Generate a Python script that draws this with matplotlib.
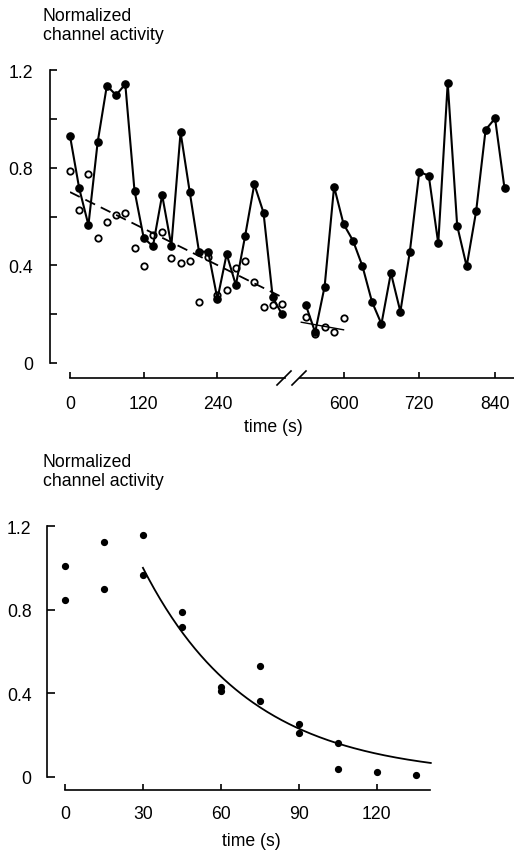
import numpy as np
import matplotlib
matplotlib.use("Agg")
import matplotlib.pyplot as plt
from matplotlib.lines import Line2D

plt.rcParams["font.family"] = ["Liberation Sans", "DejaVu Sans"]
FS = 12.7

# ---- top panel: activity over time (broken axis) ----
t_left = [0, 15, 30, 45, 60, 75, 90, 105, 120, 135, 150, 165, 180, 195,
          210, 225, 240, 255, 270, 285, 300, 315, 330, 345]
filled_left = [0.93, 0.715, 0.565, 0.904, 1.136, 1.097, 1.142, 0.706, 0.512, 0.478,
               0.688, 0.48, 0.945, 0.699, 0.456, 0.456, 0.262, 0.446, 0.319, 0.519,
               0.732, 0.616, 0.269, 0.20]
open_left = [0.787, 0.628, 0.774, 0.511, 0.579, 0.607, 0.614, 0.47, 0.399, 0.525,
             0.538, 0.429, 0.41, 0.419, 0.251, 0.435, 0.28, 0.30, 0.39, 0.419,
             0.333, 0.228, 0.239, 0.242]

t_right = [540, 555, 570, 585, 600, 615, 630, 645, 660, 675, 690, 705, 720, 735,
           750, 765, 780, 795, 810, 825, 840, 855]
filled_right = [0.239, 0.126, 0.313, 0.722, 0.569, 0.501, 0.396, 0.251, 0.16, 0.369,
                0.21, 0.456, 0.783, 0.767, 0.49, 1.147, 0.562, 0.396, 0.621, 0.955,
                1.002, 0.715]
t_open_right = [540, 555, 570, 585, 600]
open_right = [0.187, 0.12, 0.146, 0.126, 0.183]

# linear fits (end points)
fit1_t = [0, 345]
fit1_y = [0.70, 0.27]
fit2_t = [533, 600]
fit2_y = [0.167, 0.136]

# ---- bottom panel ----
b_t = [0, 0, 15, 15, 30, 30, 45, 45, 60, 60, 75, 75, 90, 90, 105, 105, 120, 135]
b_y = [1.011, 0.844, 1.123, 0.90, 1.155, 0.967, 0.788, 0.716, 0.432, 0.41,
       0.533, 0.362, 0.254, 0.209, 0.161, 0.038, 0.022, 0.01]
exp_start, exp_end = 30, 140.8
exp_amp, exp_tau = 1.0, 41.0

W, H = 514, 854
fig = plt.figure(figsize=(W / 100, H / 100), dpi=100)


def px_axes(x0, y0, x1, y1):
    # pixel box (left, top, right, bottom) -> figure fraction
    return fig.add_axes([x0 / W, 1 - y1 / H, (x1 - x0) / W, (y1 - y0) / H])


axL = px_axes(70, 71, 285, 364)
axR = px_axes(300, 71, 514, 364)

for ax in (axL, axR):
    ax.set_ylim(0, 1.2)
    ax.spines["top"].set_visible(False)
    ax.spines["right"].set_visible(False)
    ax.spines["bottom"].set_position(("outward", 10.8))
    ax.spines["bottom"].set_linewidth(1.2)
    ax.tick_params(axis="x", direction="in", length=4, width=1.2, pad=12,
                   labelsize=FS, top=False)
    ax.patch.set_visible(False)

axL.set_xlim(0, 350)
axR.set_xlim(531, 870)
axL.set_xticks([0, 120, 240])
axR.set_xticks([600, 720, 840])

axL.spines["left"].set_position(("outward", 14.4))
axL.spines["left"].set_bounds(0, 1.2)
axL.spines["left"].set_linewidth(1.2)
axL.set_yticks([0, 0.4, 0.8, 1.2])
axL.set_yticklabels(["0", "0.4", "0.8", "1.2"])
axL.set_yticks([0.2, 0.6, 1.0], minor=True)
axL.tick_params(axis="y", which="both", direction="in", length=5, width=1.2,
                pad=12, labelsize=FS)
axR.spines["left"].set_visible(False)
axR.tick_params(axis="y", left=False, labelleft=False)

for ax, t, f, to, o in ((axL, t_left, filled_left, t_left, open_left),
                        (axR, t_right, filled_right, t_open_right, open_right)):
    ax.plot(to, o, "o", ms=4.6, mfc="white", mec="black", mew=1.3,
            clip_on=False, zorder=2)
    ax.plot(t, f, "-o", color="black", lw=1.5, ms=5.2, clip_on=False, zorder=3)

axL.plot(fit1_t, fit1_y, color="black", lw=1.3, ls=(0, (6, 3.5)), zorder=2.5)
axR.plot(fit2_t, fit2_y, color="black", lw=1.0, zorder=2.5)

fig.text(273 / W, 1 - 428 / H, "time (s)", ha="center", va="center", fontsize=FS)
fig.text(43 / W, 1 - 8 / H, "Normalized\nchannel activity", ha="left", va="top",
         fontsize=FS, linespacing=1.15)

# break marks on the x axis
ys = 1 - 379 / H
for xc in (284, 299):
    fig.add_artist(Line2D([(xc - 7) / W, (xc + 7) / W], [ys - 7 / H, ys + 7 / H],
                          color="black", lw=1.2, transform=fig.transFigure))

# ---- bottom panel ----
axB = px_axes(65, 527, 430, 778)
axB.set_xlim(0, 140.5)
axB.set_ylim(0, 1.2)
axB.spines["top"].set_visible(False)
axB.spines["right"].set_visible(False)
axB.spines["left"].set_position(("outward", 13.2))
axB.spines["left"].set_bounds(0, 1.2)
axB.spines["bottom"].set_position(("outward", 9.1))
axB.spines["left"].set_linewidth(1.2)
axB.spines["bottom"].set_linewidth(1.2)
axB.set_xticks([0, 30, 60, 90, 120])
axB.set_yticks([0, 0.4, 0.8, 1.2])
axB.set_yticklabels(["0", "0.4", "0.8", "1.2"])
axB.tick_params(axis="x", direction="in", length=4, width=1.2, pad=11, labelsize=FS)
axB.tick_params(axis="y", direction="in", length=6, width=1.2, pad=11, labelsize=FS)
axB.patch.set_visible(False)

axB.plot(b_t, b_y, "o", color="black", ms=4.2, clip_on=False)
tt = np.linspace(exp_start, exp_end, 200)
axB.plot(tt, exp_amp * np.exp(-(tt - exp_start) / exp_tau), color="black", lw=1.3,
         clip_on=False)

fig.text(251 / W, 1 - 842 / H, "time (s)", ha="center", va="center", fontsize=FS)
fig.text(43 / W, 1 - 454 / H, "Normalized\nchannel activity", ha="left", va="top",
         fontsize=FS, linespacing=1.15)

fig.savefig("out.png", dpi=100)
